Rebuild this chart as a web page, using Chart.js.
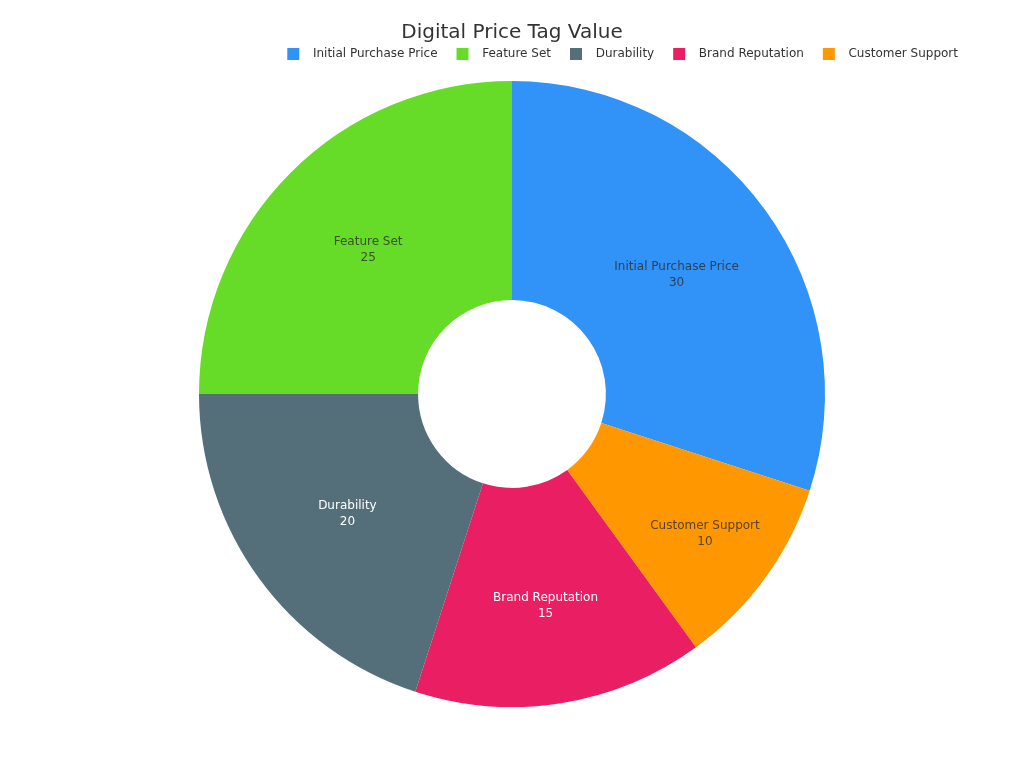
<!DOCTYPE html>
<html>
<head>
<meta charset="utf-8">
<title>Digital Price Tag Value</title>
<script src="https://cdn.jsdelivr.net/npm/chart.js@4/dist/chart.umd.min.js"></script>
<style>
    html, body { margin: 0; padding: 0; background: #fff; }
    #wrap { width: 1024px; height: 768px; }
</style>
</head>
<body>
<div id="wrap"><canvas id="chart" width="1024" height="768"></canvas></div>
<script>
// ------------------------------------------------------------
// Data: slices in clockwise order from 12 o'clock
// ------------------------------------------------------------
const CATEGORIES = ["Initial Purchase Price", "Customer Support", "Brand Reputation", "Durability", "Feature Set"];
const VALUES = [30, 10, 15, 20, 25];
const COLORS = ["#3192F8", "#FF9800", "#E91E63", "#546E7A", "#66DC28"];
const LABEL_COLORS = ["rgba(45,45,45,0.8)", "rgba(45,45,45,0.8)", "#ffffff", "#ffffff", "rgba(45,45,45,0.8)"];
// legend shows the categories in this order
const LEGEND_ORDER = ["Initial Purchase Price", "Feature Set", "Durability", "Brand Reputation", "Customer Support"];

const FONT = "'DejaVu Sans', sans-serif";
// where each label sits across the ring (0 = inner edge, 1 = outer edge)
const LABEL_DEPTH = [0.5, 0.66, 0.55, 0.5, 0.5];

// Draw "name / value" inside each ring slice
const sliceLabels = {
    id: "sliceLabels",
    afterDatasetsDraw(chart) {
        const ctx = chart.ctx;
        const meta = chart.getDatasetMeta(0);
        ctx.save();
        ctx.font = "12px " + FONT;
        ctx.textAlign = "center";
        ctx.textBaseline = "middle";
        meta.data.forEach((arc, i) => {
            const p = arc.getProps(["x", "y", "startAngle", "endAngle", "innerRadius", "outerRadius"]);
            const mid = (p.startAngle + p.endAngle) / 2;
            const r = p.innerRadius + (p.outerRadius - p.innerRadius) * LABEL_DEPTH[i];
            const x = p.x + Math.cos(mid) * r;
            const y = p.y + Math.sin(mid) * r;
            ctx.fillStyle = LABEL_COLORS[i];
            ctx.fillText(CATEGORIES[i], x, y - 8);
            ctx.fillText(String(VALUES[i]), x, y + 8);
        });
        ctx.restore();
    }
};

// Extra gap under the legend before the ring
const legendGap = {
    id: "legendGap",
    beforeInit(chart) {
        const fit = chart.legend.fit;
        chart.legend.fit = function () {
            fit.call(this);
            this.height += 11;
        };
    }
};

new Chart(document.getElementById("chart"), {
    type: "doughnut",
    data: {
        labels: CATEGORIES,
        datasets: [{
            data: VALUES,
            backgroundColor: COLORS,
            borderWidth: 0,
            hoverOffset: 0
        }]
    },
    options: {
        responsive: false,
        animation: false,
        cutout: "30%",
        layout: { padding: { top: 0, bottom: 61, left: 47, right: 47 } },
        plugins: {
            title: {
                display: true,
                text: "Digital Price Tag Value",
                color: "#333",
                font: { family: FONT, size: 20, weight: "normal", lineHeight: 1.2 },
                padding: { top: 21, bottom: -16 }
            },
            legend: {
                position: "top",
                align: "end",
                labels: {
                    color: "#333",
                    font: { family: FONT, size: 12 },
                    boxWidth: 12,
                    boxHeight: 12,
                    padding: 19,
                    sort: (a, b) => LEGEND_ORDER.indexOf(a.text.trim()) - LEGEND_ORDER.indexOf(b.text.trim()),
                    generateLabels(chart) {
                        const items = Chart.overrides.doughnut.plugins.legend.labels.generateLabels(chart);
                        items.forEach(it => { it.text = "  " + it.text; it.lineWidth = 0; });
                        return items;
                    }
                }
            },
            tooltip: { enabled: false }
        }
    },
    plugins: [sliceLabels, legendGap]
});
</script>
</body>
</html>
